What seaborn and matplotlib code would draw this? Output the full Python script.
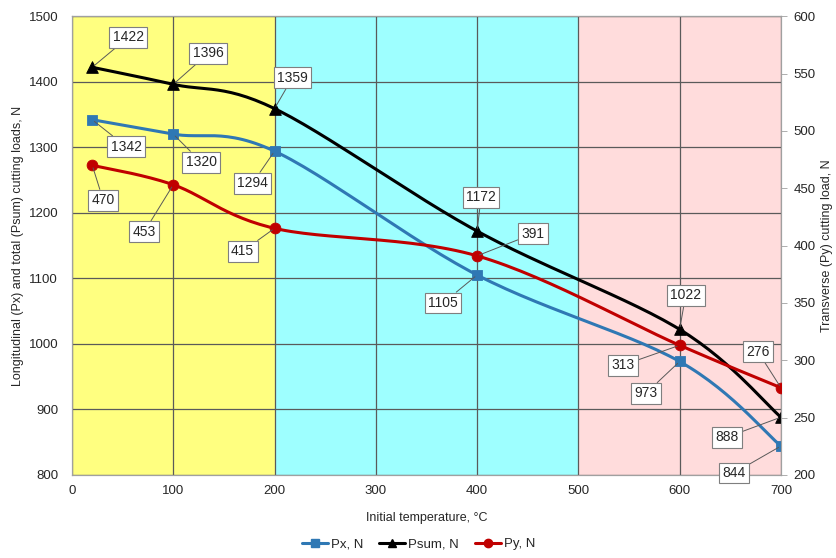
import numpy as np
import pandas as pd
import matplotlib
matplotlib.use('Agg')
import matplotlib.pyplot as plt
from matplotlib.lines import Line2D
import seaborn as sns

# Data
temps = [20, 100, 200, 400, 600, 700]
px = [1342, 1320, 1294, 1105, 973, 844]
psum = [1422, 1396, 1359, 1172, 1022, 888]
py = [470, 453, 415, 391, 313, 276]

# label box offsets (pixels from marker, y up)
px_off = [(34, -27), (28, -28), (-22, -32), (-34, -28), (-34, -32), (-47, -27)]
psum_off = [(36, 30), (35, 31), (18, 31), (4, 34), (6, 34), (-54, -20)]
py_off = [(11, -35), (-29, -47), (-32, -23), (56, 22), (-57, -20), (-23, 36)]

sns.set_theme(style='white')
plt.rcParams['font.family'] = ['Liberation Sans', 'DejaVu Sans']

c_px = '#2F78B4'
c_sum = '#000000'
c_py = '#C00000'


def smooth(x, y, sx, sy, n=30):
    # Excel-like bezier smoothing, computed in screen-ish units
    p = np.column_stack([np.asarray(x, float) * sx, np.asarray(y, float) * sy])
    out = []
    for i in range(len(p) - 1):
        p0 = p[max(i - 1, 0)]
        p1 = p[i]
        p2 = p[i + 1]
        p3 = p[min(i + 2, len(p) - 1)]
        c1 = p1 + (p2 - p0) / 6
        c2 = p2 - (p3 - p1) / 6
        t = np.linspace(0, 1, n)[:, None]
        seg = (1 - t) ** 3 * p1 + 3 * (1 - t) ** 2 * t * c1 + 3 * (1 - t) * t ** 2 * c2 + t ** 3 * p2
        out.append(seg if i == 0 else seg[1:])
    out = np.vstack(out)
    return pd.DataFrame({'x': out[:, 0] / sx, 'y': out[:, 1] / sy})


fig = plt.figure(figsize=(8.37, 5.58), dpi=100)
ax = fig.add_axes([0.086, 0.149, 0.847, 0.822])
ax2 = ax.twinx()

# background bands
ax.axvspan(0, 200, color='#FFFF80', zorder=0, lw=0)
ax.axvspan(200, 500, color='#9EFFFF', zorder=0, lw=0)
ax.axvspan(500, 700, color='#FFDCDC', zorder=0, lw=0)

sx = 709 / 700
sy_left = 459 / 700
sy_right = 459 / 400

d = smooth(temps, psum, sx, sy_left)
sns.lineplot(data=d, x='x', y='y', sort=False, estimator=None, ax=ax, color=c_sum, lw=2.2, zorder=3)
d = smooth(temps, px, sx, sy_left)
sns.lineplot(data=d, x='x', y='y', sort=False, estimator=None, ax=ax, color=c_px, lw=2.2, zorder=3)
sns.scatterplot(x=temps, y=px, ax=ax, marker='s', s=55, color=c_px, edgecolor=c_px, zorder=4)
sns.scatterplot(x=temps, y=psum, ax=ax, marker='^', s=70, color=c_sum, edgecolor=c_sum, zorder=4)

d = smooth(temps, py, sx, sy_right)
sns.lineplot(data=d, x='x', y='y', sort=False, estimator=None, ax=ax2, color=c_py, lw=2.2, zorder=3)
sns.scatterplot(x=temps, y=py, ax=ax2, marker='o', s=60, color=c_py, edgecolor=c_py, zorder=4)

ax.set_xlim(0, 700)
ax.set_ylim(800, 1500)
ax2.set_ylim(200, 600)
ax.set_xticks(range(0, 701, 100))
ax.set_yticks(range(800, 1501, 100))
ax2.set_yticks(range(200, 601, 50))

ax.grid(True, color='#5A5A5A', lw=0.9)
ax.set_axisbelow(True)
for a in (ax, ax2):
    for s in a.spines.values():
        s.set_color('#A0A0A0')
        s.set_linewidth(0.8)
ax.spines['top'].set_color('#404040')
ax.tick_params(axis='y', labelsize=9.5, colors='#262626', length=0, pad=10)
ax.tick_params(axis='x', labelsize=9.5, colors='#262626', length=0, pad=7)
ax2.tick_params(axis='y', labelsize=9.5, colors='#262626', length=4, width=0.6, pad=5, direction='out')
ax2.tick_params(axis='y', color='#A0A0A0')

ax.set_xlabel('Initial temperature, °C', fontsize=9, color='#262626', labelpad=11)
ax.set_ylabel('Longitudinal (Px) and total (Psum) cutting loads, N', fontsize=9, color='#262626', labelpad=3)
ax2.set_ylabel('Transverse (Py) cutting load, N', fontsize=9, color='#262626', labelpad=4)

box = dict(boxstyle='square,pad=0.25', fc='white', ec='#7F7F7F', lw=0.8)
arrow = dict(arrowstyle='-', color='#595959', lw=0.7, shrinkA=0, shrinkB=2)


def label(vals, offs, src):
    for t, v, (dx, dy) in zip(temps, vals, offs):
        ax2.annotate(str(v), xy=(t, v), xycoords=src.transData, xytext=(dx, dy),
                     textcoords='offset pixels', ha='center', va='center',
                     fontsize=10, color='#262626', bbox=box, arrowprops=arrow, zorder=6)


label(psum, psum_off, ax)
label(px, px_off, ax)
label(py, py_off, ax2)

handles = [
    Line2D([], [], color=c_px, marker='s', lw=2.2, ms=6),
    Line2D([], [], color=c_sum, marker='^', lw=2.2, ms=6),
    Line2D([], [], color=c_py, marker='o', lw=2.2, ms=6),
]
fig.legend(handles, ['Px, N', 'Psum, N', 'Py, N'], loc='center', bbox_to_anchor=(0.5, 0.025),
           ncol=3, frameon=False, fontsize=9.5, handlelength=2.0, columnspacing=1.2, handletextpad=0.2)

fig.savefig('out.png', dpi=100)
